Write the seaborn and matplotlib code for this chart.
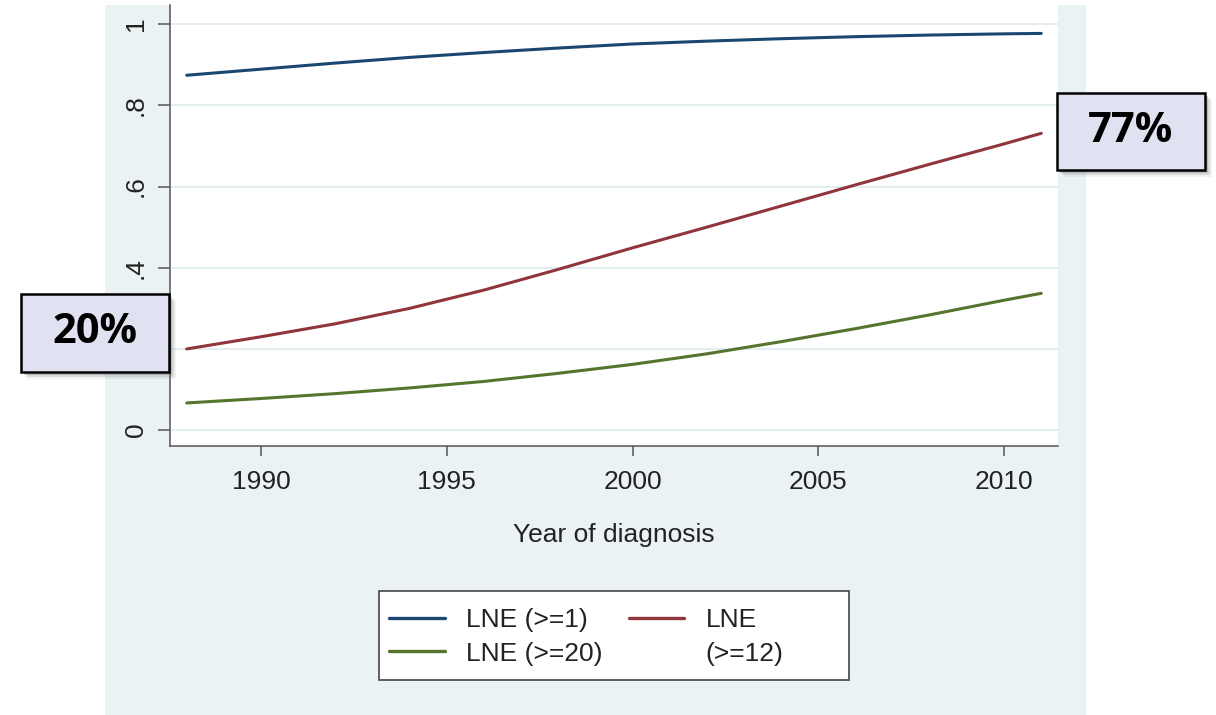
import matplotlib
matplotlib.use('Agg')
import matplotlib.pyplot as plt
from matplotlib.patches import Rectangle
from matplotlib.lines import Line2D
import pandas as pd
import seaborn as sns

# values
years = [1988, 1990, 1992, 1994, 1996, 1998, 2000, 2002, 2004, 2006, 2008, 2010, 2011]
lne_1 = [0.874, 0.889, 0.904, 0.918, 0.930, 0.941, 0.951, 0.958, 0.964, 0.969, 0.973, 0.976, 0.977]
lne_12 = [0.200, 0.230, 0.262, 0.300, 0.345, 0.396, 0.449, 0.500, 0.552, 0.604, 0.655, 0.705, 0.731]
lne_20 = [0.067, 0.078, 0.090, 0.104, 0.120, 0.140, 0.162, 0.188, 0.218, 0.250, 0.284, 0.320, 0.337]

yticks = [0, 0.2, 0.4, 0.6, 0.8, 1.0]
ytick_labels = ['0', '.2', '.4', '.6', '.8', '1']
xticks = [1990, 1995, 2000, 2005, 2010]
callouts = ['20%', '77%']

series_names = ['LNE (>=1)', 'LNE (>=12)', 'LNE (>=20)']
colors = {'LNE (>=1)': '#1a476f', 'LNE (>=12)': '#90353b', 'LNE (>=20)': '#55752f'}

df = pd.concat([
    pd.DataFrame({'year': years, 'value': vals, 'series': name})
    for name, vals in zip(series_names, [lne_1, lne_12, lne_20])
])

sns.set_theme(style='white')
plt.rcParams['font.family'] = ['Liberation Sans', 'DejaVu Sans']

W, H = 1216, 715
fig = plt.figure(figsize=(W / 100, H / 100), dpi=100)
fig.patch.set_facecolor('white')

def px_rect(x0, y0, x1, y1):
    # pixel box (top-left origin) -> figure fraction rect
    return (x0 / W, 1 - y1 / H, (x1 - x0) / W, (y1 - y0) / H)

# stata-like graph region
gx, gy, gw, gh = px_rect(105, 5, 1086, 715)
fig.patches.append(Rectangle((gx, gy), gw, gh, transform=fig.transFigure,
                             facecolor='#eaf2f3', edgecolor='none', zorder=-5))

ax = fig.add_axes(px_rect(170, 5, 1058, 446))
ax.set_facecolor('white')

sns.lineplot(data=df, x='year', y='value', hue='series', palette=colors,
             hue_order=series_names, linewidth=2.2, ax=ax, legend=False)

ax.set_xlim(1987.55, 2011.45)
ax.set_ylim(-0.039, 1.047)
ax.set_yticks(yticks)
ax.set_yticklabels(ytick_labels, rotation=90, va='center')
ax.set_xticks(xticks)
ax.set_xticklabels([str(x) for x in xticks])
ax.tick_params(axis='y', direction='out', length=9, width=1.1, color='#555555',
               labelsize=19, labelcolor='#222222', pad=7, left=True)
ax.tick_params(axis='x', direction='out', length=7, width=1.1, color='#555555',
               labelsize=19, labelcolor='#222222', pad=10, bottom=True)
ax.grid(axis='y', color='#e2ecee', linewidth=1.3)
ax.grid(axis='x', visible=False)
for side in ['top', 'right']:
    ax.spines[side].set_visible(False)
for side in ['left', 'bottom']:
    ax.spines[side].set_color('#555555')
    ax.spines[side].set_linewidth(1.1)
ax.set_xlabel('Year of diagnosis', fontsize=19, color='#222222', labelpad=21)
ax.set_ylabel('')

# legend: frame drawn separately to match the box size
lx, ly, lw, lh = px_rect(379, 591, 849, 680)
fig.patches.append(Rectangle((lx, ly), lw, lh, transform=fig.transFigure,
                             facecolor='white', edgecolor='#444444', linewidth=1.2, zorder=2))
handles = [Line2D([], [], color=colors['LNE (>=1)'], linewidth=2.4),
           Line2D([], [], color=colors['LNE (>=20)'], linewidth=2.4),
           Line2D([], [], color=colors['LNE (>=12)'], linewidth=2.4),
           Line2D([], [], color='none')]
labels = ['LNE (>=1)', 'LNE (>=20)', 'LNE', '(>=12)']
leg = fig.legend(handles, labels, ncol=2, loc='upper left',
                 bbox_to_anchor=(371 / W, 1 - 590 / H), frameon=False,
                 fontsize=19, handlelength=2.1, handletextpad=0.8,
                 columnspacing=1.0, labelspacing=0.35, borderpad=0.2)
leg.set_zorder(3)
for t in leg.get_texts():
    t.set_color('#222222')

# callout boxes with a soft shadow
boxes = [(21, 294, 169, 372), (1057, 93, 1205, 170)]
for (x0, y0, x1, y1), txt in zip(boxes, callouts):
    for k, a in [(7, 0.08), (5, 0.15), (3, 0.25)]:
        sx, sy, sw, sh = px_rect(x0 + k, y0 + k, x1 + k, y1 + k)
        fig.patches.append(Rectangle((sx, sy), sw, sh, transform=fig.transFigure,
                                     facecolor='#555555', edgecolor='none', alpha=a, zorder=6))
    bx, by, bw, bh = px_rect(x0, y0, x1, y1)
    fig.patches.append(Rectangle((bx, by), bw, bh, transform=fig.transFigure,
                                 facecolor='#e1e2f1', edgecolor='black', linewidth=1.8, zorder=7))
    fig.text(bx + bw / 2, by + bh / 2, txt, ha='center', va='center', fontsize=30,
             fontweight='bold', color='black', zorder=8, family=['Open Sans', 'DejaVu Sans'])

fig.savefig('out.png', dpi=100)
